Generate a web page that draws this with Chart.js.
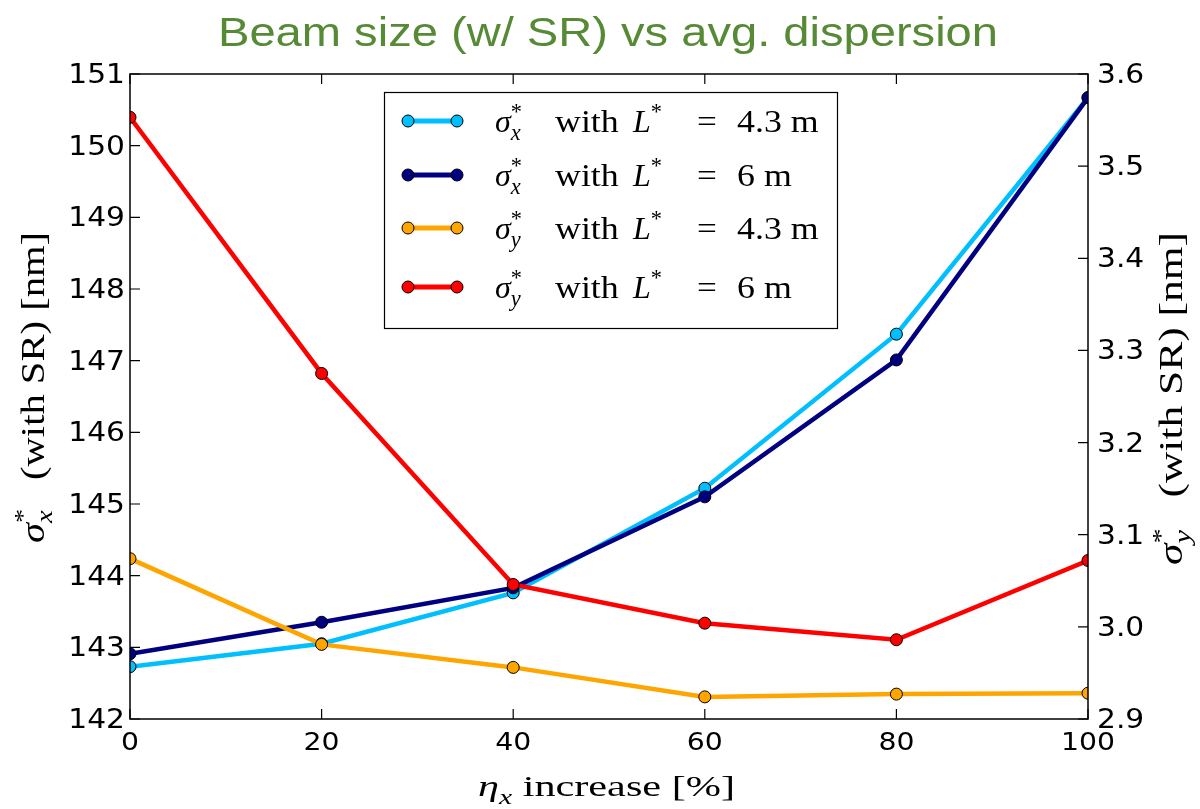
<!DOCTYPE html>
<html>
<head>
<meta charset="utf-8">
<title>Beam size (w/ SR) vs avg. dispersion</title>
<script src="https://cdn.jsdelivr.net/npm/chart.js@4.4.1/dist/chart.umd.min.js"></script>
<style>
  html, body { margin: 0; padding: 0; background: #fff; }
  #chart { display: block; }
</style>
</head>
<body>
<canvas id="chart" width="1200" height="809"></canvas>
<script>
// ── DATA ──
const etaIncrease = [0, 20, 40, 60, 80, 100];
const sigmaX43 = [142.73, 143.05, 143.76, 145.22, 147.37, 150.67];
const sigmaX6  = [142.91, 143.35, 143.83, 145.10, 147.01, 150.67];
const sigmaY43 = [3.074, 2.981, 2.956, 2.924, 2.927, 2.928];
const sigmaY6  = [3.553, 3.275, 3.046, 3.004, 2.986, 3.072];

const xTicks = [0, 20, 40, 60, 80, 100];
const leftTicks = [142, 143, 144, 145, 146, 147, 148, 149, 150, 151];
const rightTicks = [2.9, 3.0, 3.1, 3.2, 3.3, 3.4, 3.5, 3.6];

const seriesNames = ['4.3 m', '6 m', '4.3 m', '6 m'];
const seriesSub = ['x', 'x', 'y', 'y'];
const seriesColors = ['#00bfff', '#000080', '#ffa500', '#ff0000'];

// ── TEXT HELPERS ──
const SERIF = '"Liberation Serif", "DejaVu Serif", serif';
const SANS = '"DejaVu Sans", sans-serif';

function segFont(s, size) {
  const sz = (s.sup || s.sub) ? size * 0.7 : size;
  return (s.it ? 'italic ' : '') + sz + 'px ' + SERIF;
}

// lay out a list of segments; "keep" = next segment starts at same x (sup over sub)
function layoutRich(ctx, segs, size) {
  let x = 0;
  const out = [];
  segs.forEach(s => {
    ctx.font = segFont(s, size);
    const w = ctx.measureText(s.t).width;
    const dy = s.sup ? -size * 0.42 : s.sub ? size * 0.25 : 0;
    out.push({ t: s.t, x, dy, font: ctx.font });
    if (!s.keep) x += w;
  });
  return { out, width: x };
}

function drawRich(ctx, segs, size, x, y, length, angle, perp) {
  ctx.save();
  const L = layoutRich(ctx, segs, size);
  ctx.translate(x, y);
  if (angle) ctx.rotate(angle);
  ctx.scale(length ? length / L.width : 1, perp || 1);
  ctx.textAlign = 'left';
  ctx.textBaseline = 'alphabetic';
  L.out.forEach(o => { ctx.font = o.font; ctx.fillText(o.t, o.x, o.dy); });
  ctx.restore();
}

function sigma(sub) {
  return [{ t: 'σ', it: true }, { t: '*', sup: true, keep: true }, { t: sub, it: true, sub: true }];
}

function stretchText(ctx, str, x, y, sx, align) {
  ctx.save();
  ctx.translate(x, y);
  ctx.scale(sx, 1);
  ctx.textAlign = align || 'left';
  ctx.fillText(str, 0, 0);
  ctx.restore();
}

// ── FRAME, TICKS, TITLES, LEGEND ──
const decorPlugin = {
  id: 'decor',
  beforeDraw(chart) {
    const ctx = chart.ctx;
    ctx.save();
    ctx.fillStyle = '#fff';
    ctx.fillRect(0, 0, chart.width, chart.height);
    ctx.restore();
  },
  afterDraw(chart) {
    const ctx = chart.ctx;
    const a = chart.chartArea;
    const xs = chart.scales.x, yl = chart.scales.yL, yr = chart.scales.yR;
    ctx.save();

    // spines + inward ticks
    ctx.strokeStyle = '#000';
    ctx.lineWidth = 1.5;
    ctx.strokeRect(a.left, a.top, a.right - a.left, a.bottom - a.top);
    ctx.lineWidth = 1.2;
    ctx.beginPath();
    xTicks.forEach(v => {
      const px = xs.getPixelForValue(v);
      ctx.moveTo(px, a.bottom); ctx.lineTo(px, a.bottom - 10);
      ctx.moveTo(px, a.top); ctx.lineTo(px, a.top + 10);
    });
    leftTicks.forEach(v => {
      const py = yl.getPixelForValue(v);
      ctx.moveTo(a.left, py); ctx.lineTo(a.left + 10, py);
    });
    rightTicks.forEach(v => {
      const py = yr.getPixelForValue(v);
      ctx.moveTo(a.right, py); ctx.lineTo(a.right - 10, py);
    });
    ctx.stroke();

    // tick labels
    ctx.fillStyle = '#000';
    ctx.textBaseline = 'alphabetic';
    ctx.font = '24px ' + SANS;
    xTicks.forEach(v => stretchText(ctx, String(v), xs.getPixelForValue(v), a.bottom + 31, 1.18, 'center'));
    ctx.font = '27px ' + SANS;
    leftTicks.forEach(v => stretchText(ctx, String(v), a.left - 5, yl.getPixelForValue(v) + 9, 1.1, 'right'));
    rightTicks.forEach(v => stretchText(ctx, v.toFixed(1), a.right + 9, yr.getPixelForValue(v) + 9, 1.1, 'left'));

    // title
    ctx.fillStyle = '#578a36';
    ctx.font = '40px "Liberation Sans", Arial, sans-serif';
    const tw = ctx.measureText('Beam size (w/ SR) vs avg. dispersion').width;
    stretchText(ctx, 'Beam size (w/ SR) vs avg. dispersion', 218, 46, 780 / tw, 'left');

    // axis titles
    ctx.fillStyle = '#000';
    drawRich(ctx, [{ t: 'η', it: true }, { t: 'x', it: true, sub: true }, { t: ' increase [%]' }],
      30, 478, 796, 257, 0, 1);
    drawRich(ctx, sigma('x').concat([{ t: '   (with SR) [nm]' }]), 30, 44, 543, 311, -Math.PI / 2, 1.12);
    drawRich(ctx, sigma('y').concat([{ t: '   (with SR) [nm]' }]), 30, 1182, 565, 333, -Math.PI / 2, 1.12);

    // legend box
    ctx.fillStyle = '#fff';
    ctx.fillRect(384, 92, 453, 236);
    ctx.strokeStyle = '#000';
    ctx.lineWidth = 1.2;
    ctx.strokeRect(384.5, 92.5, 453, 236);
    const rows = [121, 175, 228, 287];
    rows.forEach((ry, i) => {
      ctx.strokeStyle = seriesColors[i];
      ctx.lineWidth = 5;
      ctx.beginPath(); ctx.moveTo(408, ry); ctx.lineTo(457, ry); ctx.stroke();
      [408, 457].forEach(cx => {
        ctx.beginPath(); ctx.arc(cx, ry, 6, 0, Math.PI * 2);
        ctx.fillStyle = seriesColors[i]; ctx.fill();
        ctx.lineWidth = 1; ctx.strokeStyle = '#000'; ctx.stroke();
      });
      const by = ry + 11;
      ctx.fillStyle = '#000';
      drawRich(ctx, sigma(seriesSub[i]), 32, 495, by, 0, 0, 1);
      drawRich(ctx, [{ t: 'L', it: true }, { t: '*', sup: true }], 32, 633, by, 0, 0, 1);
      ctx.font = '32px ' + SERIF;
      stretchText(ctx, 'with', 555, by, 1.12);
      stretchText(ctx, '=', 697, by, 1.1);
      stretchText(ctx, seriesNames[i], 737, by, 1.12);
    });
    ctx.restore();
  }
};

// ── CHART ──
function points(ys) {
  return etaIncrease.map((x, i) => ({ x, y: ys[i] }));
}

function dataset(label, ys, color, axis, order) {
  return {
    label, data: points(ys), yAxisID: axis, order,
    borderColor: color, borderWidth: 4.5,
    pointBackgroundColor: color, pointBorderColor: '#000',
    pointBorderWidth: 1, pointRadius: 6,
    tension: 0, clip: 0,
  };
}

new Chart(document.getElementById('chart'), {
  type: 'line',
  data: {
    datasets: [
      dataset('σx* with L* = 4.3 m', sigmaX43, seriesColors[0], 'yL', 4),
      dataset('σx* with L* = 6 m', sigmaX6, seriesColors[1], 'yL', 3),
      dataset('σy* with L* = 4.3 m', sigmaY43, seriesColors[2], 'yR', 2),
      dataset('σy* with L* = 6 m', sigmaY6, seriesColors[3], 'yR', 1),
    ]
  },
  options: {
    responsive: false,
    animation: false,
    layout: { padding: { top: 74, left: 0, right: 0, bottom: 0 } },
    plugins: { legend: { display: false }, tooltip: { enabled: false } },
    scales: {
      x: {
        type: 'linear', position: 'bottom', min: 0, max: 100,
        grid: { display: false }, border: { display: false },
        ticks: { display: false },
        afterBuildTicks: s => { s.ticks = xTicks.map(v => ({ value: v })); },
        afterFit: s => { s.height = 90; },
      },
      yL: {
        type: 'linear', position: 'left', min: 142, max: 151,
        grid: { display: false }, border: { display: false },
        ticks: { display: false },
        afterBuildTicks: s => { s.ticks = leftTicks.map(v => ({ value: v })); },
        afterFit: s => { s.width = 130; },
      },
      yR: {
        type: 'linear', position: 'right', min: 2.9, max: 3.6,
        grid: { display: false }, border: { display: false },
        ticks: { display: false },
        afterBuildTicks: s => { s.ticks = rightTicks.map(v => ({ value: v })); },
        afterFit: s => { s.width = 112; },
      },
    }
  },
  plugins: [decorPlugin]
});
</script>
</body>
</html>
